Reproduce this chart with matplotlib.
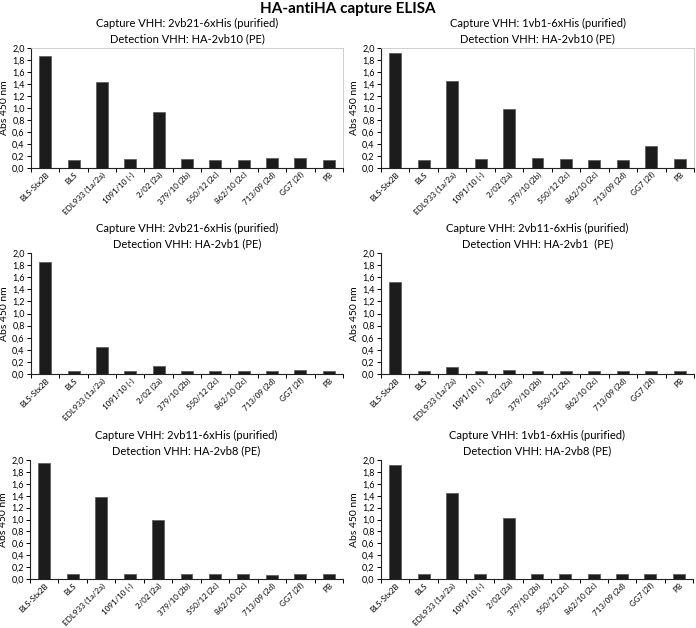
import numpy as np
import matplotlib.pyplot as plt
from matplotlib.ticker import FixedLocator

plt.rcParams["font.family"] = ["Lato", "DejaVu Sans"]

categories = ["BLS-Stx2B", "BLS", "EDL933 (1a/2a)", "1091/10 (-)", "2/02 (2a)",
              "379/10 (2b)", "550/12 (2c)", "862/10 (2c)", "713/09 (2d)",
              "GG7 (2f)", "PB"]

titles = [
    "Capture VHH: 2vb21-6xHis (purified)\nDetection VHH: HA-2vb10 (PE)",
    "Capture VHH: 1vb1-6xHis (purified)\nDetection VHH: HA-2vb10 (PE)",
    "Capture VHH: 2vb21-6xHis (purified)\nDetection VHH: HA-2vb1 (PE)",
    "Capture VHH: 2vb11-6xHis (purified)\nDetection VHH: HA-2vb1  (PE)",
    "Capture VHH: 2vb11-6xHis (purified)\nDetection VHH: HA-2vb8 (PE)",
    "Capture VHH: 1vb1-6xHis (purified)\nDetection VHH: HA-2vb8 (PE)",
]

abs_2vb21_2vb10 = [1.87, 0.14, 1.44, 0.15, 0.93, 0.15, 0.14, 0.14, 0.16, 0.16, 0.14]
abs_1vb1_2vb10 = [1.92, 0.14, 1.45, 0.15, 0.98, 0.16, 0.15, 0.13, 0.13, 0.36, 0.15]
abs_2vb21_2vb1 = [1.85, 0.05, 0.45, 0.05, 0.13, 0.05, 0.05, 0.05, 0.05, 0.06, 0.05]
abs_2vb11_2vb1 = [1.52, 0.05, 0.12, 0.05, 0.07, 0.05, 0.05, 0.05, 0.05, 0.05, 0.05]
abs_2vb11_2vb8 = [1.95, 0.08, 1.38, 0.08, 1.00, 0.08, 0.08, 0.08, 0.07, 0.08, 0.08]
abs_1vb1_2vb8 = [1.91, 0.08, 1.44, 0.08, 1.03, 0.08, 0.08, 0.08, 0.08, 0.09, 0.08]

series = [abs_2vb21_2vb10, abs_1vb1_2vb10, abs_2vb21_2vb1,
          abs_2vb11_2vb1, abs_2vb11_2vb8, abs_1vb1_2vb8]

yticks = [0.0, 0.2, 0.4, 0.6, 0.8, 1.0, 1.2, 1.4, 1.6, 1.8, 2.0]

W, H = 696, 628
fig = plt.figure(figsize=(W / 100, H / 100), dpi=100)
fig.text(0.5, 1 - 9 / H, "HA-antiHA capture ELISA", ha="center", va="center",
         fontsize=11, fontweight="bold")

# axes boxes in pixels: left, top, right, bottom
boxes = [
    (31, 48, 343, 168), (381, 48, 694, 168),
    (31, 253, 343, 374), (381, 253, 694, 374),
    (30, 460, 343, 579), (381, 460, 693, 579),
]
framed = [True, True, False, False, False, False]

x = np.arange(len(categories))
for vals, title, (l, t, r, b), fr in zip(series, titles, boxes, framed):
    ax = fig.add_axes([l / W, 1 - b / H, (r - l) / W, (b - t) / H])
    ax.bar(x, vals, width=0.42, color="#1c1c1c", edgecolor="#555555", linewidth=0.5)
    ax.set_xlim(-0.5, len(categories) - 0.5)
    ax.set_ylim(0, 2.0)
    ax.set_yticks(yticks)
    ax.set_yticklabels([f"{v:.1f}".replace(".", ",") for v in yticks], fontsize=6.5)
    ax.set_xticks(x)
    ax.set_xticklabels(categories, rotation=45, ha="right", rotation_mode="anchor",
                       fontsize=5.8)
    ax.tick_params(axis="x", which="major", length=0, pad=2)
    ax.xaxis.set_minor_locator(FixedLocator(np.arange(-0.5, len(categories), 1)))
    ax.tick_params(axis="x", which="minor", length=3, width=0.7, direction="out")
    ax.tick_params(axis="y", length=3, width=0.7, direction="out", pad=1.5)
    ax.set_ylabel("Abs 450 nm", fontsize=7.5, labelpad=2)
    ax.set_title(title, fontsize=8, pad=4, linespacing=1.45)
    for s in ["left", "bottom"]:
        ax.spines[s].set_color("#222222")
        ax.spines[s].set_linewidth(0.8)
    for s in ["top", "right"]:
        if fr:
            ax.spines[s].set_color("#c8c8c8")
            ax.spines[s].set_linewidth(0.6)
        else:
            ax.spines[s].set_visible(False)

plt.savefig("out.png", dpi=100)
